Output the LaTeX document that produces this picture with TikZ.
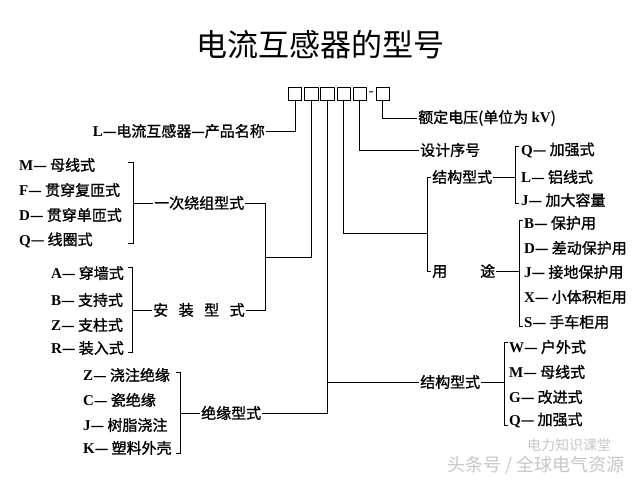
\documentclass[tikz,border=0pt]{standalone}
\usepackage{fontspec}
\setmainfont{Noto Sans CJK SC}
\newfontfamily\itemfont{Noto Sans CJK SC}[FakeBold=1.2]
\newfontfamily\latfont{Liberation Serif}
\usetikzlibrary{positioning}
\newcommand{\Lt}[1]{{\latfont\bfseries #1}}

\begin{document}
\begin{tikzpicture}[x=1pt, y=-1pt,
    item/.style={anchor=west, inner sep=1pt, font=\itemfont\fontsize{15}{15}\selectfont},
    cell/.style={draw, line width=0.7pt, minimum size=13.5pt, inner sep=0pt},
    wire/.style={line width=0.9pt},
    wm/.style={anchor=west, inner sep=0pt, text=gray!45}]
  \useasboundingbox (0,0) rectangle (640,480);
  \node[font=\fontsize{31}{31}\selectfont] (title) at (320,45) {电流互感器的型号};

  % model code cells
  \node[cell] (c1) at (295,94) {};
  \node[cell, right=2pt of c1] (c2) {};
  \node[cell, right=2pt of c2] (c3) {};
  \node[cell, right=2pt of c3] (c4) {};
  \node[cell, right=2pt of c4] (c5) {};
  \node[inner sep=0pt, font=\fontsize{15}{15}\selectfont, right=1.5pt of c5] (dash) {-};
  \node[cell, right=1.5pt of dash] (c6) {};

  % product name
  \node[item, anchor=east] (prod) at (266,131) {\Lt{L}—电流互感器—产品名称};
  \draw[wire] (c1.south) |- (prod.east);

  % primary winding
  \node[item] (m1) at (18,165) {\Lt{M}— 母线式};
  \node[item] (m2) at (18,190) {\Lt{F}— 贯穿复匝式};
  \node[item] (m3) at (18,215) {\Lt{D}— 贯穿单匝式};
  \node[item] (m4) at (18,240) {\Lt{Q}— 线圈式};
  \draw[wire] (128,162) -- (133,162) -- (133,243) -- (128,243);
  \node[item] (yc) at (153,203) {一次绕组型式};
  \draw[wire] (133,203) -- (yc.west);

  % mounting
  \node[item] (a1) at (50,273) {\Lt{A}— 穿墙式};
  \node[item] (a2) at (50,300) {\Lt{B}— 支持式};
  \node[item] (a3) at (50,325) {\Lt{Z}— 支柱式};
  \node[item] (a4) at (50,348) {\Lt{R}— 装入式};
  \draw[wire] (128,267) -- (132,267) -- (132,352) -- (128,352);
  \node[item] (az) at (152,310) {安\hspace{0.7em}装\hspace{0.7em}型\hspace{0.7em}式};
  \draw[wire] (132,310) -- (az.west);
  \draw[wire] (yc.east) -- (265,203) -- (265,310) -- (az.east);
  \coordinate (jA) at (265,257);
  \draw[wire] (c2.south) |- (jA);

  % insulation
  \node[item] (z1) at (82,375) {\Lt{Z}— 浇注绝缘};
  \node[item] (z2) at (82,400) {\Lt{C}— 瓷绝缘};
  \node[item] (z3) at (82,425) {\Lt{J}— 树脂浇注};
  \node[item] (z4) at (82,448) {\Lt{K}— 塑料外壳};
  \draw[wire] (176,372) -- (180,372) -- (180,453) -- (176,453);
  \node[item] (jy) at (200,413) {绝缘型式};
  \draw[wire] (180,413) -- (jy.west);
  \draw[wire] (c3.south) -- (c3.south |- jy.east) -- (jy.east);

  % lower structure
  \node[item] (jb) at (419,382) {结构型式};
  \draw[wire] (c3.south |- jb.west) -- (jb.west);
  \node[item] (w1) at (508,347) {\Lt{W}— 户外式};
  \node[item] (w2) at (508,372) {\Lt{M}— 母线式};
  \node[item] (w3) at (508,397) {\Lt{G}— 改进式};
  \node[item] (w4) at (508,420) {\Lt{Q}— 加强式};
  \draw[wire] (508,342) -- (504,342) -- (504,425) -- (508,425);
  \draw[wire] (jb.east) -- (504,382);

  % rated voltage and design number
  \node[item] (ed) at (417,118) {额定电压(单位为 \Lt{kV})};
  \draw[wire] (c6.south) |- (ed.west);
  \node[item] (sj) at (419,150) {设计序号};
  \draw[wire] (c5.south) |- (sj.west);

  % upper structure and use
  \node[item] (jg) at (431,177) {结构型式};
  \node[item] (yt) at (431,271) {用\hspace{2.2em}途};
  \draw[wire] (jg.west) -- (427,177) -- (427,271) -- (yt.west);
  \coordinate (jB) at (427,233);
  \draw[wire] (c4.south) |- (jB);
  \node[item] (q1) at (520,150) {\Lt{Q}— 加强式};
  \node[item] (q2) at (520,177) {\Lt{L}— 铝线式};
  \node[item] (q3) at (520,200) {\Lt{J}— 加大容量};
  \draw[wire] (519,146) -- (515,146) -- (515,203) -- (519,203);
  \draw[wire] (jg.east) -- (515,177);
  \node[item] (u1) at (523,223) {\Lt{B}— 保护用};
  \node[item] (u2) at (523,248) {\Lt{D}— 差动保护用};
  \node[item] (u3) at (523,272) {\Lt{J}— 接地保护用};
  \node[item] (u4) at (523,297) {\Lt{X}— 小体积柜用};
  \node[item] (u5) at (523,322) {\Lt{S}— 手车柜用};
  \draw[wire] (523,220) -- (519,220) -- (519,326) -- (523,326);
  \draw[wire] (yt.east) -- (519,271);

  % watermark
  \node[wm, font=\fontsize{14}{14}\selectfont] (wm1) at (527,445) {电力知识课堂};
  \node[wm, font=\fontsize{18}{18}\selectfont] (wm2) at (447,465) {头条号 / 全球电气资源};
\end{tikzpicture}
\end{document}
